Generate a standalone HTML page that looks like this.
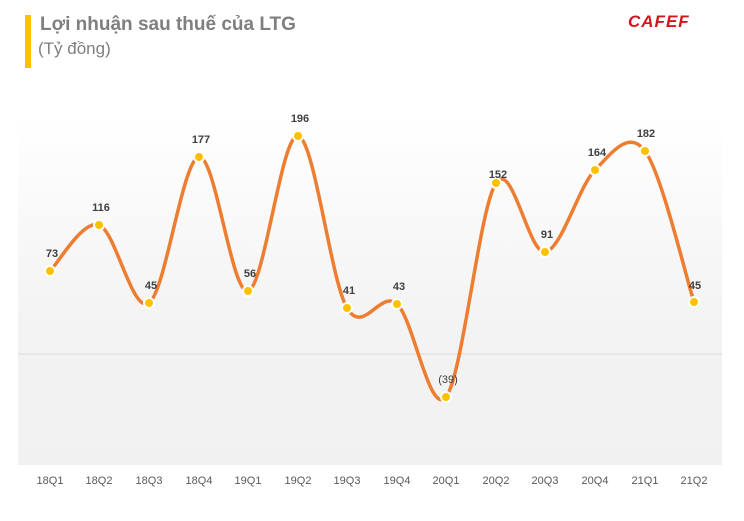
<!DOCTYPE html>
<html><head><meta charset="utf-8"><style>
body{margin:0;width:744px;height:516px;background:#fff;overflow:hidden;font-family:"Liberation Sans",sans-serif}
</style></head><body>
<svg width="744" height="516" viewBox="0 0 744 516" xmlns="http://www.w3.org/2000/svg">
<defs><linearGradient id="g" x1="0" y1="0" x2="0" y2="1"><stop offset="0" stop-color="#ffffff"/><stop offset="0.6" stop-color="#f3f3f3"/><stop offset="1" stop-color="#f1f1f1"/></linearGradient></defs>
<rect x="25" y="15" width="6" height="53" fill="#ffc000"/>
<text x="40" y="30" font-size="19" font-weight="bold" fill="#7f7f7f" style="font-family:'Liberation Sans Narrow','Liberation Sans',sans-serif">Lợi nhuận sau thuế của LTG</text>
<text x="38" y="54" font-size="17" fill="#7f7f7f" style="font-family:'Liberation Sans Narrow','Liberation Sans',sans-serif">(Tỷ đồng)</text>
<text x="628" y="27" font-size="17" font-weight="bold" fill="#d7141c" font-style="italic" letter-spacing="1" style="font-family:'Liberation Sans',sans-serif">CAFEF</text>
<rect x="18" y="112" width="704" height="353" fill="url(#g)"/>
<line x1="18" y1="354" x2="722" y2="354" stroke="#d9d9d9" stroke-width="1"/>
<path id="curve" fill="none" stroke="#ed7d31" stroke-width="3.5"/>
<g id="dots"></g>
<g font-size="11" font-weight="bold" fill="#404040" text-anchor="middle">
<text x="52" y="257">73</text><text x="101" y="211">116</text><text x="151" y="289">45</text>
<text x="201" y="143">177</text><text x="250" y="277">56</text><text x="300" y="122">196</text>
<text x="349" y="294">41</text><text x="399" y="290">43</text>
<text x="448" y="383" font-weight="normal">(39)</text>
<text x="498" y="178">152</text><text x="547" y="238">91</text><text x="597" y="156">164</text>
<text x="646" y="137">182</text><text x="695" y="289">45</text>
</g>
<g font-size="11" fill="#595959" text-anchor="middle" style="font-family:'Liberation Sans Narrow','Liberation Sans',sans-serif">
<text x="50" y="484">18Q1</text><text x="99" y="484">18Q2</text><text x="149" y="484">18Q3</text><text x="199" y="484">18Q4</text>
<text x="248" y="484">19Q1</text><text x="298" y="484">19Q2</text><text x="347" y="484">19Q3</text><text x="397" y="484">19Q4</text>
<text x="446" y="484">20Q1</text><text x="496" y="484">20Q2</text><text x="545" y="484">20Q3</text><text x="595" y="484">20Q4</text>
<text x="645" y="484">21Q1</text><text x="694" y="484">21Q2</text>
</g>
</svg>
<script>
var P=[[50,271],[99,225],[149,303],[199,157],[248,291],[298,136],[347,308],[397,304],[446,397],[496,183],[545,252],[595,170],[645,151],[694,302]];
var d="M"+P[0][0]+","+P[0][1];
for(var i=0;i<P.length-1;i++){
 var p0=P[i-1]||P[i],p1=P[i],p2=P[i+1],p3=P[i+2]||P[i+1];
 var t=6;
 var c1=[p1[0]+(p2[0]-p0[0])/t,p1[1]+(p2[1]-p0[1])/t];
 var c2=[p2[0]-(p3[0]-p1[0])/t,p2[1]-(p3[1]-p1[1])/t];
 d+=" C"+c1+" "+c2+" "+p2;
}
document.getElementById("curve").setAttribute("d",d);
var g=document.getElementById("dots"),s="";
P.forEach(function(p){s+='<circle cx="'+p[0]+'" cy="'+p[1]+'" r="6" fill="#fff"/><circle cx="'+p[0]+'" cy="'+p[1]+'" r="4" fill="#ffc000"/>';});
g.innerHTML=s;
</script>
</body></html>
